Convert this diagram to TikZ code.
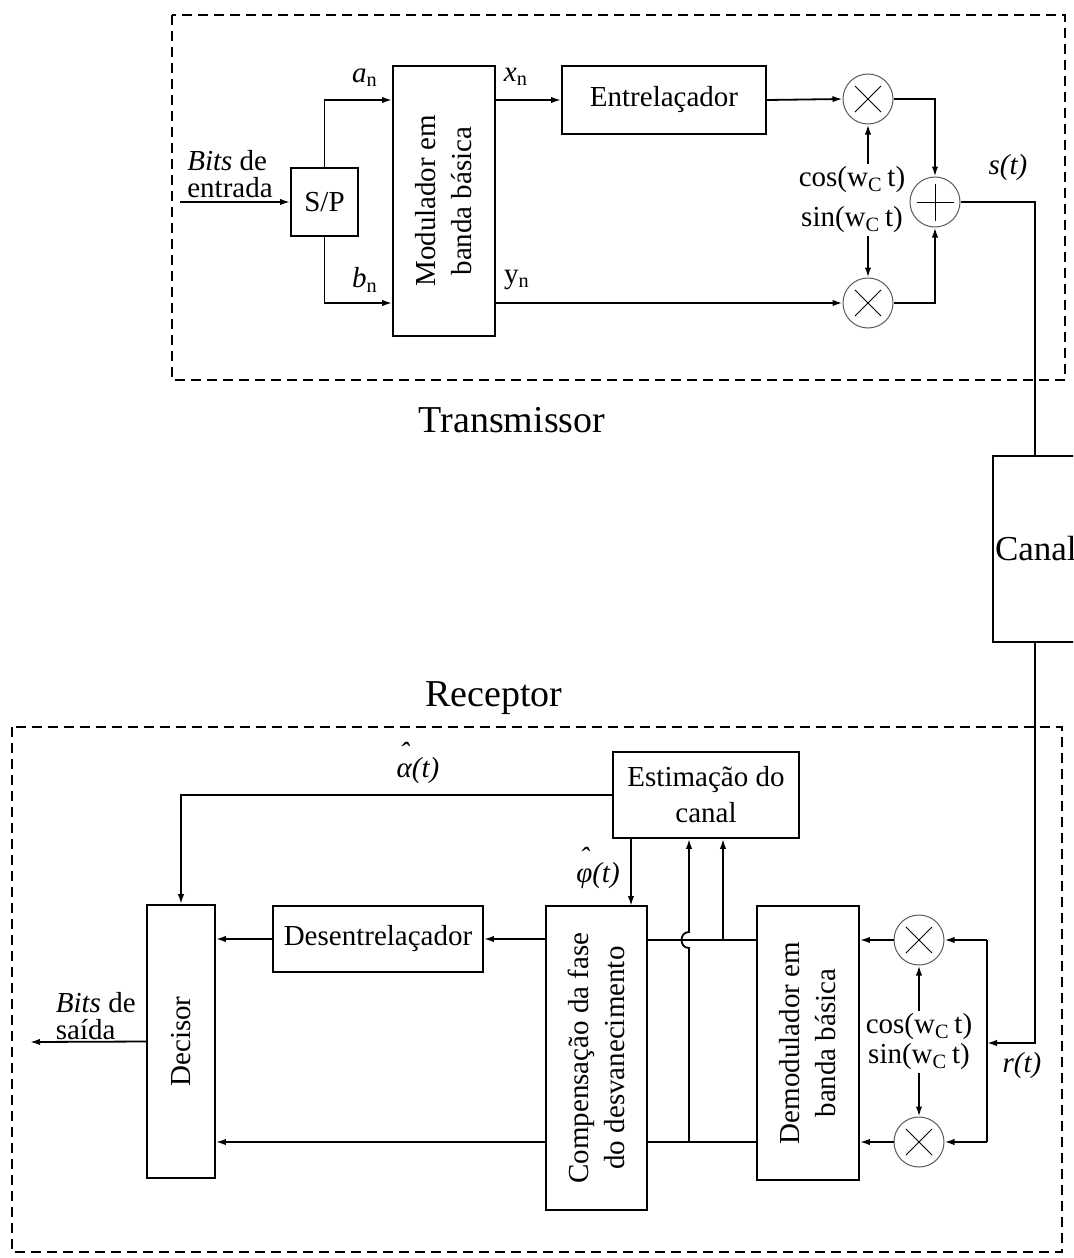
\documentclass[tikz,border=0pt]{standalone}
\usepackage{fontspec}
\setmainfont{Liberation Serif}
\usetikzlibrary{arrows.meta,calc}

\newcommand{\hatsym}[1]{\ooalign{\hidewidth\raisebox{.5em}{ˆ}\hidewidth\cr #1\cr}}

\begin{document}
\begin{tikzpicture}[x=0.5pt,y=-0.5pt,
  line width=0.9pt,
  >={Latex[length=5pt,width=3.2pt]},
  font=\fontsize{14.5}{18}\selectfont,
  blk/.style={draw,line width=0.9pt,inner sep=0pt},
  mix/.style={draw=black!65,line width=0.5pt,circle,minimum size=25pt,inner sep=0pt},
  lbl/.style={inner sep=1pt},
  bigl/.style={font=\fontsize{19}{22}\selectfont},
  frame/.style={dash pattern=on 5pt off 3pt,line width=0.7pt}]
  \useasboundingbox (0,0) rectangle (1073,1258);
  \clip (0,0) rectangle (1073,1258);

  % transmissor
  \draw[frame] (172,15) rectangle (1065,380);
  \node[bigl] (tx) at (512,420) {Transmissor};
  \node[blk,minimum width=33.5pt,minimum height=34pt] (sp) at (324.5,202) {S/P};
  \node[blk,minimum width=51pt,minimum height=135pt,
    label={[rotate=90,align=center]center:Modulador em\\banda básica}] (mod) at (444,201) {};
  \node[blk,minimum width=102pt,minimum height=34pt] (intl) at (664,100) {Entrelaçador};
  \node[mix] (mx1) at (868,99) {};
  \node[mix] (mx2) at (868,303) {};
  \node[mix] (sum) at (935,202) {};
  \node[lbl] (cosT) at (852,180) {cos(w\textsubscript{C}\,t)};
  \node[lbl] (sinT) at (852,220) {sin(w\textsubscript{C}\,t)};
  \node[lbl,align=left,font=\fontsize{14.5}{13.5}\selectfont] (bin) at (230,174) {\textit{Bits} de\\entrada};
  \node[lbl] (an) at (365,78) {\textit{a}\textsubscript{n}};
  \node[lbl] (bn) at (365,280) {\textit{b}\textsubscript{n}};
  \node[lbl] (xn) at (516,77) {\textit{x}\textsubscript{n}};
  \node[lbl] (yn) at (517,280) {y\textsubscript{n}};
  \node[lbl] (st) at (1008,168) {\textit{s(t)}};
  \coordinate (in) at (180,202);

  % canal
  \node[blk,minimum width=63.5pt,minimum height=93pt] (canal) at (1056.5,549) {};
  \node[anchor=west,inner sep=1pt,font=\fontsize{17.5}{19}\selectfont] (canaltxt) at (canal.west) {Canal};

  % receptor
  \draw[frame] (12,727) rectangle (1062,1252);
  \node[bigl] (rx) at (494,698) {Receptor};
  \node[blk,minimum width=93pt,minimum height=43pt,align=center] (est) at (706,795) {Estimação do\\canal};
  \node[blk,minimum width=34pt,minimum height=136.5pt,
    label={[rotate=90]center:Decisor}] (dec) at (181,1041.5) {};
  \node[blk,minimum width=105pt,minimum height=33pt] (deint) at (378,939) {Desentrelaçador};
  \node[blk,minimum width=50.5pt,minimum height=152pt,
    label={[rotate=90,align=center]center:Compensação da fase\\do desvanecimento}] (comp) at (596.5,1058) {};
  \node[blk,minimum width=51pt,minimum height=137pt,
    label={[rotate=90,align=center]center:Demodulador em\\banda básica}] (demod) at (808,1043) {};
  \node[mix] (rmx1) at (919,940) {};
  \node[mix] (rmx2) at (919,1142) {};
  \node[lbl] (cosR) at (919,1027) {cos(w\textsubscript{C}\,t)};
  \node[lbl] (sinR) at (919,1057) {sin(w\textsubscript{C}\,t)};
  \node[lbl] (rt) at (1022,1066) {\textit{r(t)}};
  \node[lbl] (alf) at (418,763) {\itshape\hatsym{α}(t)};
  \node[lbl] (phi) at (598,868) {\itshape\hatsym{φ}(t)};
  \node[lbl,anchor=west,align=left,font=\fontsize{14.5}{13.5}\selectfont] (bout) at (53,1016) {\textit{Bits} de\\saída};
  \coordinate (rj) at (987,1043);
  \coordinate (out) at (30,1042);
  \coordinate (tp1) at (689,1142);
  \coordinate (tp2) at (723,940);
  \coordinate (phin) at (631,906);

  % multiplicadores e somador
  \foreach \m in {mx1,mx2,rmx1,rmx2}{
    \draw[line width=0.5pt,shorten <=3.5pt,shorten >=3.5pt] (\m.45) -- (\m.225);
    \draw[line width=0.5pt,shorten <=3.5pt,shorten >=3.5pt] (\m.135) -- (\m.315);
  }
  \draw[line width=0.5pt,shorten <=3.5pt,shorten >=3.5pt] (sum.north) -- (sum.south);
  \draw[line width=0.5pt,shorten <=3.5pt,shorten >=3.5pt] (sum.west) -- (sum.east);

  % ligacoes do transmissor
  \draw[->] (in) -- (sp.west);
  \draw[->] (sp.north) |- (mod.west |- intl.west);
  \draw[->] (sp.south) |- (mod.west |- mx2.west);
  \draw[->] (mod.east |- intl.west) -- (intl.west);
  \draw[->] (intl.east) -- (mx1.west);
  \draw[->] (mod.east |- mx2.west) -- (mx2.west);
  \draw[->] (cosT.north -| mx1) -- (mx1.south);
  \draw[->] (sinT.south -| mx2) -- (mx2.north);
  \draw[->] (mx1.east) -| (sum.north);
  \draw[->] (mx2.east) -| (sum.south);
  \draw (sum.east) -| ([xshift=21.5pt]canal.north west);

  % ligacoes do receptor
  \draw[->] ([xshift=21.5pt]canal.south west) |- (rj);
  \draw (rj |- rmx1.east) -- (rj |- rmx2.east);
  \draw[->] (rj |- rmx1.east) -- (rmx1.east);
  \draw[->] (rj |- rmx2.east) -- (rmx2.east);
  \draw[->] (cosR.north) -- (rmx1.south);
  \draw[->] (sinR.south) -- (rmx2.north);
  \draw[->] (rmx1.west) -- (demod.east |- rmx1.west);
  \draw[->] (rmx2.west) -- (demod.east |- rmx2.west);
  \draw (demod.west |- rmx1) -- (comp.east |- rmx1);
  \draw (demod.west |- rmx2) -- (comp.east |- rmx2);
  \draw[->] (tp1) -- (689,948) .. controls (679,948) and (679,932) .. (689,932) -- (tp1 |- est.south);
  \draw[->] (tp2) -- (tp2 |- est.south);
  \draw[->] (est.south -| phin) -- (phin);
  \draw[->] (est.west) -| (dec.north);
  \draw[->] (comp.west |- deint.east) -- (deint.east);
  \draw[->] (deint.west) -- (dec.east |- deint.west);
  \draw[->] (comp.west |- rmx2.west) -- (dec.east |- rmx2.west);
  \draw[->] (dec.west) -- (out);
\end{tikzpicture}
\end{document}
